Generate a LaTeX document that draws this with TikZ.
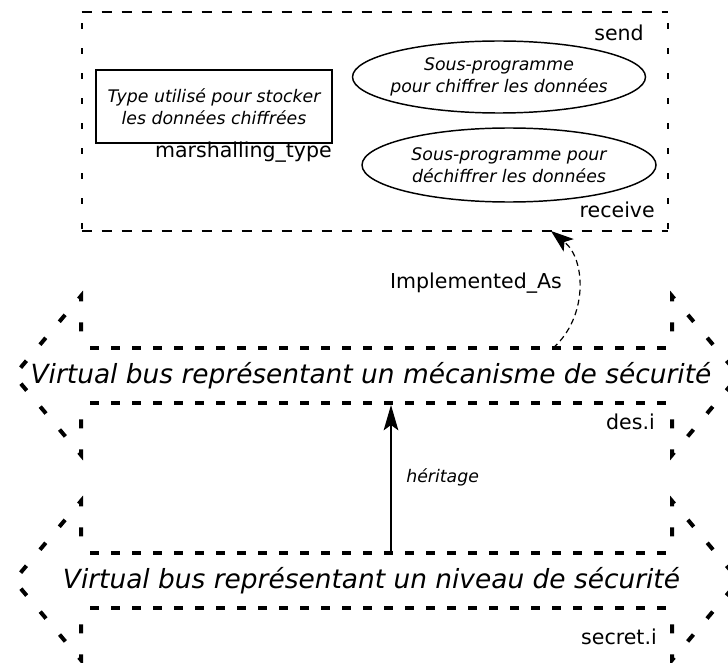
\documentclass[tikz,border=0pt]{standalone}
\usepackage{fontspec}
\setmainfont{DejaVu Sans}
\usetikzlibrary{arrows.meta,shapes.geometric}
\begin{document}
\begin{tikzpicture}[x=0.75pt,y=-0.75pt,
  vbh/.style={line width=3pt, dash pattern=on 6.75pt off 9pt, dash phase=9pt},
  vbv/.style={line width=3pt, dash pattern=on 6.75pt off 15.75pt, dash phase=10pt},
  boxh/.style={line width=1.4pt, dash pattern=on 7.5pt off 7.5pt},
  boxv/.style={line width=1.4pt, dash pattern=on 4.5pt off 14.25pt, dash phase=10pt},
  lbl/.style={inner sep=0pt, font=\fontsize{15.4pt}{18pt}\selectfont},
  desc/.style={align=center, font=\fontsize{13pt}{16.5pt}\selectfont\itshape},
  bustext/.style={inner sep=0pt, font=\fontsize{19.8pt}{24pt}\selectfont\itshape},
  ovalbox/.style={ellipse, draw, line width=1.1pt, inner xsep=-20pt, inner ysep=0pt},
  rectbox/.style={rectangle, draw, line width=1.5pt, inner sep=0pt},
  frame/.style={rectangle, inner sep=0pt},
  inherit/.style={line width=1.1pt, -{Stealth[length=19pt,width=11pt,inset=4pt]}},
  implas/.style={line width=0.9pt, dash pattern=on 4.5pt off 3pt, -{Stealth[length=17pt,width=12pt,inset=4pt]}},
]
\path[use as bounding box, clip] (0,0) rectangle (728,663);

% implementation frame
\node[frame, minimum width=439.5pt, minimum height=164.25pt] (impl) at (375,121.5) {};
\draw[boxh] (impl.north west) -- (impl.north east);
\draw[boxh] (impl.south west) -- (impl.south east);
\draw[boxv] (impl.north west) -- (impl.south west);
\draw[boxv] (impl.north east) -- (impl.south east);

\node[rectbox, desc, inner sep=0pt, minimum width=177pt, minimum height=54.75pt] (mtype) at (214,106.5)
  {Type utilisé pour stocker\\les données chiffrées};
\node[lbl, anchor=east] (mtlbl) at (332,152) {marshalling\_type};

\node[ovalbox, desc, minimum width=219.75pt, minimum height=54pt] (send) at (499,77)
  {Sous-programme\\pour chiffrer les données};
\node[lbl, anchor=east] (sendlbl) at (644,33) {send};

\node[ovalbox, desc, minimum width=220.5pt, minimum height=55.5pt] (recv) at (509,165)
  {Sous-programme pour\\déchiffrer les données};
\node[lbl, anchor=east] (recvlbl) at (655,210) {receive};

% upper virtual bus
\draw[vbh] (81,348) -- (672,348);
\draw[vbh] (81,403) -- (672,403);
\draw[vbv] (81,348) -- (81,296) -- (14,375.5) -- (81,455) -- (81,403);
\draw[vbv] (672,348) -- (672,296) -- (739,375.5) -- (672,455) -- (672,403);
\node[bustext] (vb1) at (371,376) {Virtual bus représentant un mécanisme de sécurité};
\node[lbl, anchor=east] (deslbl) at (655,422) {des.i};

% lower virtual bus
\draw[vbh] (81,553) -- (672,553);
\draw[vbh] (81,608) -- (672,608);
\draw[vbv] (81,553) -- (81,501) -- (14,580.5) -- (81,660) -- (81,608);
\draw[vbv] (672,553) -- (672,501) -- (739,580.5) -- (672,660) -- (672,608);
\node[bustext] (vb2) at (371.5,581) {Virtual bus représentant un niveau de sécurité};
\node[lbl, anchor=east] (seclbl) at (657,637) {secret.i};

% connectors
\coordinate (iaS) at (553,348);
\coordinate (iaE) at (551,231);
\draw[implas] (iaS) to[bend right=50] (iaE);
\node[lbl] (ialbl) at (476,283) {Implemented\_As};

\coordinate (hS) at (391,553);
\coordinate (hE) at (391,405);
\draw[inherit] (hS) -- (hE);
\node[desc, inner sep=0pt, anchor=west] (hlbl) at (406,477) {héritage};
\end{tikzpicture}
\end{document}
